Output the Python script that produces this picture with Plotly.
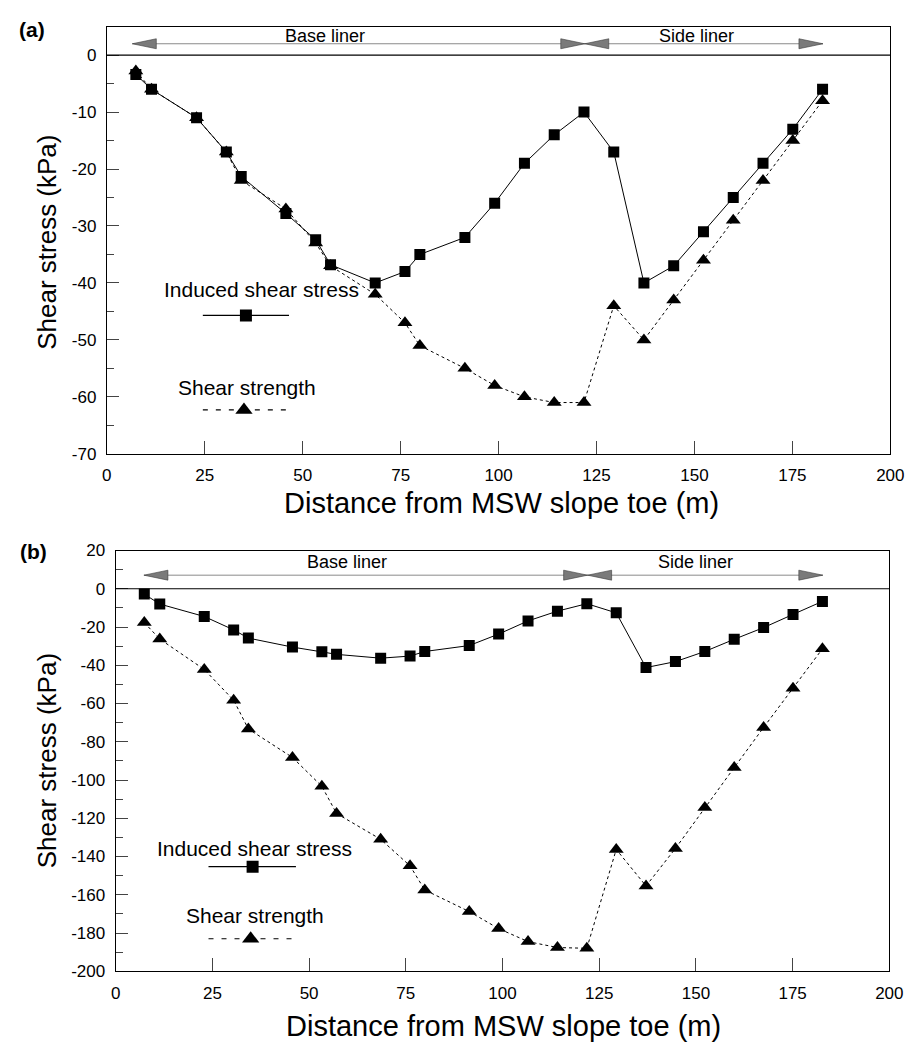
import plotly.graph_objects as go

W, H = 920, 1049

# Station positions along the liner (m from MSW slope toe)
distance_m = [7.4, 11.4, 22.9, 30.5, 34.3, 45.7, 53.3, 57.1, 68.5, 76.1, 79.9, 91.4,
              99.0, 106.6, 114.2, 121.8, 129.4, 137.1, 144.7, 152.3, 159.9, 167.5, 175.1, 182.7]

# Panel (a)
induced_a = [-3.4, -6, -11, -17, -21.3, -27.8, -32.4, -36.8, -40, -38, -35, -32,
             -26, -19, -14, -10, -17, -40, -37, -31, -25, -19, -13, -6]
strength_a = [-2.8, -6, -11, -17, -22, -27, -33, -37, -42, -47, -51, -55,
              -58, -60, -61, -61, -44, -50, -43, -36, -29, -22, -15, -8]

# Panel (b)
induced_b = [-2.8, -8.0, -14.5, -21.5, -25.8, -30.5, -33.0, -34.3, -36.3, -35.2, -32.8, -29.7,
             -23.7, -16.8, -11.7, -7.8, -12.6, -41.2, -38.1, -32.8, -26.4, -20.3, -13.4, -6.6]
strength_b = [-17.7, -26.3, -42.2, -58.3, -73.3, -88.2, -103.3, -117.5, -131, -144.9, -157.5, -168.8,
              -177.7, -184.5, -187.6, -188, -136.3, -155.4, -135.8, -114.4, -93.5, -72.5, -52, -31.4]

x_ticks = [0, 25, 50, 75, 100, 125, 150, 175, 200]
y_ticks_a = list(range(-70, 1, 10))
y_ticks_b = list(range(-200, 21, 20))

# Liner extents shown by the header arrows
base_liner_a, side_liner_a = (6.5, 122.0), (122.0, 182.8)
base_liner_b, side_liner_b = (7.3, 122.0), (122.0, 182.8)

FONT = "Liberation Sans, Arial, Helvetica, sans-serif"
BLACK = "#000000"

# Panel layout in pixels: (left, right, top, bottom)
box_a = (104, 904, 18, 453)
box_b = (113, 903, 551.5, 980)


def xdom(b):
    return [b[0] / W, b[1] / W]


def ydom(b):
    return [(H - b[3]) / H, (H - b[2]) / H]


def hyphen_labels(vals):
    # plain ASCII hyphen for negative numbers
    return [str(v) for v in vals]


fig = go.Figure()

SQ, TRI = 11, 13
panels = [
    dict(xa="x", ya="y", induced=induced_a, strength=strength_a),
    dict(xa="x2", ya="y2", induced=induced_b, strength=strength_b),
]
for p in panels:
    fig.add_trace(go.Scatter(
        x=distance_m, y=p["induced"], xaxis=p["xa"], yaxis=p["ya"], mode="lines+markers",
        line=dict(color=BLACK, width=1),
        marker=dict(symbol="square", size=SQ, color=BLACK),
        showlegend=False, name="Induced shear stress"))
    fig.add_trace(go.Scatter(
        x=distance_m, y=p["strength"], xaxis=p["xa"], yaxis=p["ya"], mode="lines+markers",
        line=dict(color=BLACK, width=1, dash="3px,3px"),
        marker=dict(symbol="triangle-up", size=TRI, color=BLACK),
        showlegend=False, name="Shear strength"))

shapes = []
annotations = []

# Legend keys drawn inside each panel
legend_spec = [
    dict(xa="x", ya="y", text_x=39.5, ind_text_y=-41.2, ind_line_y=-45.7, x0=24.5, x1=46.5,
         ind_mark_x=35.5, str_text_y=-58.3, str_line_y=-62.3, str_mark_x=35.0, str_text_x=35.8),
    dict(xa="x2", ya="y2", text_x=36.0, ind_text_y=-135.8, ind_line_y=-145.3, x0=24.0, x1=46.6,
         ind_mark_x=35.4, str_text_y=-170.7, str_line_y=-183.0, str_mark_x=34.9, str_text_x=36.0),
]
for L in legend_spec:
    shapes.append(dict(type="line", xref=L["xa"], yref=L["ya"], x0=L["x0"], x1=L["x1"],
                       y0=L["ind_line_y"], y1=L["ind_line_y"], line=dict(color=BLACK, width=1.2)))
    shapes.append(dict(type="line", xref=L["xa"], yref=L["ya"], x0=L["x0"], x1=L["x1"],
                       y0=L["str_line_y"], y1=L["str_line_y"],
                       line=dict(color=BLACK, width=1.2, dash="5px,8px")))
    fig.add_trace(go.Scatter(x=[L["ind_mark_x"]], y=[L["ind_line_y"]], xaxis=L["xa"], yaxis=L["ya"],
                             mode="markers", marker=dict(symbol="square", size=12, color=BLACK),
                             showlegend=False, hoverinfo="skip"))
    fig.add_trace(go.Scatter(x=[L["str_mark_x"]], y=[L["str_line_y"]], xaxis=L["xa"], yaxis=L["ya"],
                             mode="markers", marker=dict(symbol="triangle-up", size=15, color=BLACK),
                             showlegend=False, hoverinfo="skip"))
    annotations.append(dict(xref=L["xa"], yref=L["ya"], x=L["text_x"], y=L["ind_text_y"],
                            xanchor="center", yanchor="middle",
                            text="Induced shear stress", showarrow=False,
                            font=dict(family=FONT, size=21, color=BLACK)))
    annotations.append(dict(xref=L["xa"], yref=L["ya"], x=L["str_text_x"], y=L["str_text_y"],
                            xanchor="center", yanchor="middle",
                            text="Shear strength", showarrow=False,
                            font=dict(family=FONT, size=21, color=BLACK)))

# Header arrows marking the base and side liners
HEAD_GREY = "#7a7a7a"


def head(xa, ya, x, y, direction):
    # direction -1: points left, +1: points right; sizes in pixels
    L, h = 24, 5
    path = f"M0,0 L{-direction * L},{h} L{-direction * L},{-h} Z"
    return dict(type="path", xref=xa, yref=ya, xsizemode="pixel", ysizemode="pixel",
                xanchor=x, yanchor=y, path=path, fillcolor=HEAD_GREY,
                line=dict(color="#3a3a3a", width=0.6))


header_spec = [
    dict(xa="x", ya="y", base=base_liner_a, side=side_liner_a, arrow_y=2.0, text_y=3.4,
         base_text_x=55.7, side_text_x=150.4),
    dict(xa="x2", ya="y2", base=base_liner_b, side=side_liner_b, arrow_y=7.1, text_y=14.0,
         base_text_x=59.7, side_text_x=149.9),
]
for Hs in header_spec:
    xa, ya, y = Hs["xa"], Hs["ya"], Hs["arrow_y"]
    shapes.append(dict(type="line", xref=xa, yref=ya, x0=Hs["base"][0], x1=Hs["side"][1],
                       y0=y, y1=y, line=dict(color="#8a8a8a", width=1)))
    shapes.append(head(xa, ya, Hs["base"][0], y, -1))
    shapes.append(head(xa, ya, Hs["base"][1], y, +1))
    shapes.append(head(xa, ya, Hs["side"][0], y, -1))
    shapes.append(head(xa, ya, Hs["side"][1], y, +1))
    annotations.append(dict(xref=xa, yref=ya, x=Hs["base_text_x"], y=Hs["text_y"], text="Base liner",
                            xanchor="center", yanchor="middle",
                            showarrow=False, font=dict(family=FONT, size=18, color=BLACK)))
    annotations.append(dict(xref=xa, yref=ya, x=Hs["side_text_x"], y=Hs["text_y"], text="Side liner",
                            xanchor="center", yanchor="middle",
                            showarrow=False, font=dict(family=FONT, size=18, color=BLACK)))

# Zero reference lines
for xa, ya in (("x", "y"), ("x2", "y2")):
    shapes.append(dict(type="line", xref=f"{xa} domain", yref=ya, x0=0, x1=1, y0=0, y1=0,
                       line=dict(color=BLACK, width=1.2)))

# Axis titles and panel tags
XT_FONT = dict(family=FONT, size=29, color=BLACK)
YT_FONT = dict(family=FONT, size=26, color=BLACK)
TAG_FONT = dict(family=FONT, size=21, color=BLACK)


def paper_text(x_px, y_px, text, font, angle=0):
    return dict(xref="paper", yref="paper", x=x_px / W, y=(H - y_px) / H, text=text,
                xanchor="center", yanchor="middle", textangle=angle, showarrow=False, font=font)


annotations += [
    paper_text(507, 503, "Distance from MSW slope toe (m)", XT_FONT),
    paper_text(509, 1036, "Distance from MSW slope toe (m)", XT_FONT),
    paper_text(43, 238, "Shear stress (kPa)", YT_FONT, -90),
    paper_text(43, 766, "Shear stress (kPa)", YT_FONT, -90),
    paper_text(28, 21, "<b>(a)</b>", TAG_FONT),
    paper_text(29, 553, "<b>(b)</b>", TAG_FONT),
]

TICK_FONT = dict(family=FONT, size=17, color=BLACK)
common_x = dict(range=[0, 200], tickvals=x_ticks, ticktext=hyphen_labels(x_ticks), ticks="inside",
                ticklen=13, tickwidth=1, tickcolor="#444", showline=True, linecolor=BLACK,
                linewidth=1.2, mirror=True, showgrid=False, zeroline=False, tickfont=TICK_FONT,
                ticklabelstandoff=6)
common_y = dict(ticks="inside", ticklen=12, tickwidth=1, tickcolor="#444", showline=True,
                linecolor=BLACK, linewidth=1.2, mirror=True, showgrid=False, zeroline=False,
                tickfont=TICK_FONT, ticklabelstandoff=6)

fig.update_layout(
    width=W, height=H, margin=dict(l=0, r=0, t=0, b=0),
    paper_bgcolor="white", plot_bgcolor="white",
    xaxis=dict(domain=xdom(box_a), anchor="y", **common_x),
    yaxis=dict(domain=ydom(box_a), anchor="x", range=[-70, 5], tickvals=y_ticks_a,
               ticktext=hyphen_labels(y_ticks_a),
               minor=dict(dtick=5, ticks="inside", ticklen=7, tickcolor="#444"), **common_y),
    xaxis2=dict(domain=xdom(box_b), anchor="y2", **common_x),
    yaxis2=dict(domain=ydom(box_b), anchor="x2", range=[-200, 20], tickvals=y_ticks_b,
                ticktext=hyphen_labels(y_ticks_b),
                minor=dict(dtick=10, ticks="inside", ticklen=7, tickcolor="#444"), **common_y),
    shapes=shapes, annotations=annotations, showlegend=False,
)

fig.write_html("out.html")
